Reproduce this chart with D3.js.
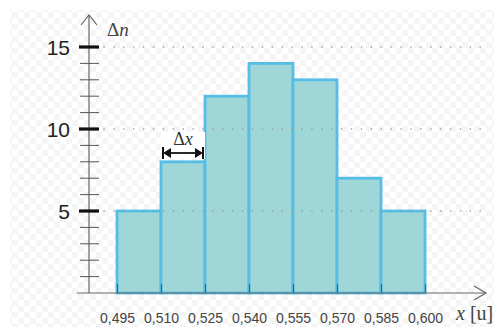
<!DOCTYPE html>
<html>
<head>
<meta charset="utf-8">
<script src="https://cdn.jsdelivr.net/npm/d3@7"></script>
<style>
  body { margin: 0; background: #fff; }
  svg { display: block; }
</style>
</head>
<body>
<div id="chart"></div>
<script>
var w = 494,
	h = 327;

// bin edges along x [u]
var binEdges = [0.495, 0.510, 0.525, 0.540, 0.555, 0.570, 0.585, 0.600];
// counts per bin
var counts = [5, 8, 12, 14, 13, 7, 5];
// labelled y ticks
var yTicks = [5, 10, 15];
var yMinor = [1, 2, 3, 4, 6, 7, 8, 9, 11, 12, 13, 14];

var barFill = '#9fd6d7';
var barStroke = '#55bde6';

var svg = d3.select('#chart').append('svg')
	.attr('width', w)
	.attr('height', h);

// faint checkerboard backdrop
var defs = svg.append('defs');
var pat = defs.append('pattern')
	.attr('id', 'checks')
	.attr('width', 12).attr('height', 12)
	.attr('patternUnits', 'userSpaceOnUse');
pat.append('rect').attr('width', 12).attr('height', 12).attr('fill', '#ffffff');
pat.append('rect').attr('width', 6).attr('height', 6).attr('fill', '#f5f5f5');
pat.append('rect').attr('x', 6).attr('y', 6).attr('width', 6).attr('height', 6).attr('fill', '#f5f5f5');
svg.append('rect')
	.attr('x', 10).attr('y', 10)
	.attr('width', w - 10).attr('height', h - 10)
	.attr('fill', 'url(#checks)');

var x = d3.scaleLinear().domain([0.495, 0.600]).range([117, 425]);
var y = d3.scaleLinear().domain([0, 15]).range([293, 47]);

var bins = counts.map(function(c, i) { return {x0: binEdges[i], x1: binEdges[i + 1], n: c}; });

//Bars
svg.append('g').selectAll('rect')
	.data(bins)
	.enter()
	.append('rect')
	.attr('x', function(d) { return x(d.x0); })
	.attr('y', function(d) { return y(d.n); })
	.attr('width', function(d) { return x(d.x1) - x(d.x0); })
	.attr('height', function(d) { return y(0) - y(d.n); })
	.attr('fill', barFill)
	.attr('stroke', barStroke)
	.attr('stroke-width', 2.8);

//Dotted grid lines on top
svg.append('g').selectAll('line')
	.data(yTicks)
	.enter()
	.append('line')
	.attr('x1', 104).attr('x2', 490)
	.attr('y1', function(d) { return y(d); })
	.attr('y2', function(d) { return y(d); })
	.attr('stroke', '#999')
	.attr('stroke-width', 1.6)
	.attr('stroke-linecap', 'round')
	.attr('stroke-dasharray', '0.1,9.8');

//x axis
var xAxis = d3.axisBottom(x)
	.tickValues(binEdges)
	.tickSize(-9)
	.tickFormat(function(d) { return d3.format('.3f')(d).replace('.', ','); });
var gx = svg.append('g')
	.attr('transform', 'translate(0,' + y(0) + ')')
	.call(xAxis);
gx.select('.domain').remove();
gx.selectAll('.tick line').attr('stroke', '#2a6f80').attr('stroke-width', 1.2);
gx.selectAll('.tick text')
	.attr('y', 20)
	.attr('dy', '0.71em')
	.attr('fill', '#444')
	.attr('font-family', 'Liberation Sans, Arial, sans-serif')
	.attr('font-size', '14px');

svg.append('line')
	.attr('x1', 77).attr('x2', 486)
	.attr('y1', y(0)).attr('y2', y(0))
	.attr('stroke', '#666').attr('stroke-width', 1.2);
svg.append('path')
	.attr('d', 'M474,286 L486,' + y(0) + ' L474,300')
	.attr('fill', 'none').attr('stroke', '#666').attr('stroke-width', 1.2);

//y axis
svg.append('line')
	.attr('x1', 89).attr('x2', 89)
	.attr('y1', y(0)).attr('y2', 15)
	.attr('stroke', '#666').attr('stroke-width', 1.2);
svg.append('path')
	.attr('d', 'M81,25 L89,15 L97,25')
	.attr('fill', 'none').attr('stroke', '#666').attr('stroke-width', 1.2);

svg.append('g').selectAll('line')
	.data(yMinor)
	.enter()
	.append('line')
	.attr('x1', 80).attr('x2', 99)
	.attr('y1', function(d) { return y(d); })
	.attr('y2', function(d) { return y(d); })
	.attr('stroke', '#555').attr('stroke-width', 1);

var gy = svg.append('g');
gy.selectAll('line')
	.data(yTicks)
	.enter()
	.append('line')
	.attr('x1', 79).attr('x2', 99)
	.attr('y1', function(d) { return y(d); })
	.attr('y2', function(d) { return y(d); })
	.attr('stroke', '#111').attr('stroke-width', 3.2);
gy.selectAll('text')
	.data(yTicks)
	.enter()
	.append('text')
	.attr('x', 70)
	.attr('y', function(d) { return y(d) + 8; })
	.attr('text-anchor', 'end')
	.attr('font-family', 'Liberation Sans, Arial, sans-serif')
	.attr('font-size', '21px')
	.attr('fill', '#222')
	.text(function(d) { return d; });

//axis titles
var dn = svg.append('text')
	.attr('x', 107).attr('y', 36)
	.attr('font-family', 'Liberation Serif, Times New Roman, serif')
	.attr('font-size', '19px')
	.attr('fill', '#444');
dn.append('tspan').text('\u0394');
dn.append('tspan').attr('font-style', 'italic').text('n');

var xl = svg.append('text')
	.attr('x', 456).attr('y', 320)
	.attr('font-family', 'Liberation Serif, Times New Roman, serif')
	.attr('font-size', '20px')
	.attr('fill', '#444');
xl.append('tspan').attr('font-style', 'italic').text('x');
xl.append('tspan').text(' [u]');

//bin width annotation
var ay = 153;
var ax0 = x(binEdges[1]) + 2, ax1 = x(binEdges[2]) - 2;
svg.append('rect')
	.attr('x', ax0 - 2).attr('y', 132)
	.attr('width', ax1 - ax0 + 4).attr('height', 27)
	.attr('fill', '#fff');
svg.append('line')
	.attr('x1', ax0 + 4).attr('x2', ax1 - 4)
	.attr('y1', ay).attr('y2', ay)
	.attr('stroke', '#111').attr('stroke-width', 1.8);
svg.append('path')
	.attr('d', 'M' + ax0 + ',' + ay + ' l8,-5 l0,10 z M' + ax1 + ',' + ay + ' l-8,-5 l0,10 z')
	.attr('fill', '#111');
[ax0, ax1].forEach(function(px) {
	svg.append('line')
		.attr('x1', px).attr('x2', px)
		.attr('y1', ay - 6).attr('y2', ay + 6)
		.attr('stroke', '#111').attr('stroke-width', 2);
});
var dx = svg.append('text')
	.attr('x', (ax0 + ax1) / 2).attr('y', 145)
	.attr('text-anchor', 'middle')
	.attr('font-family', 'Liberation Serif, Times New Roman, serif')
	.attr('font-size', '18px')
	.attr('fill', '#333');
dx.append('tspan').text('\u0394');
dx.append('tspan').attr('font-style', 'italic').text('x');
</script>
</body>
</html>
